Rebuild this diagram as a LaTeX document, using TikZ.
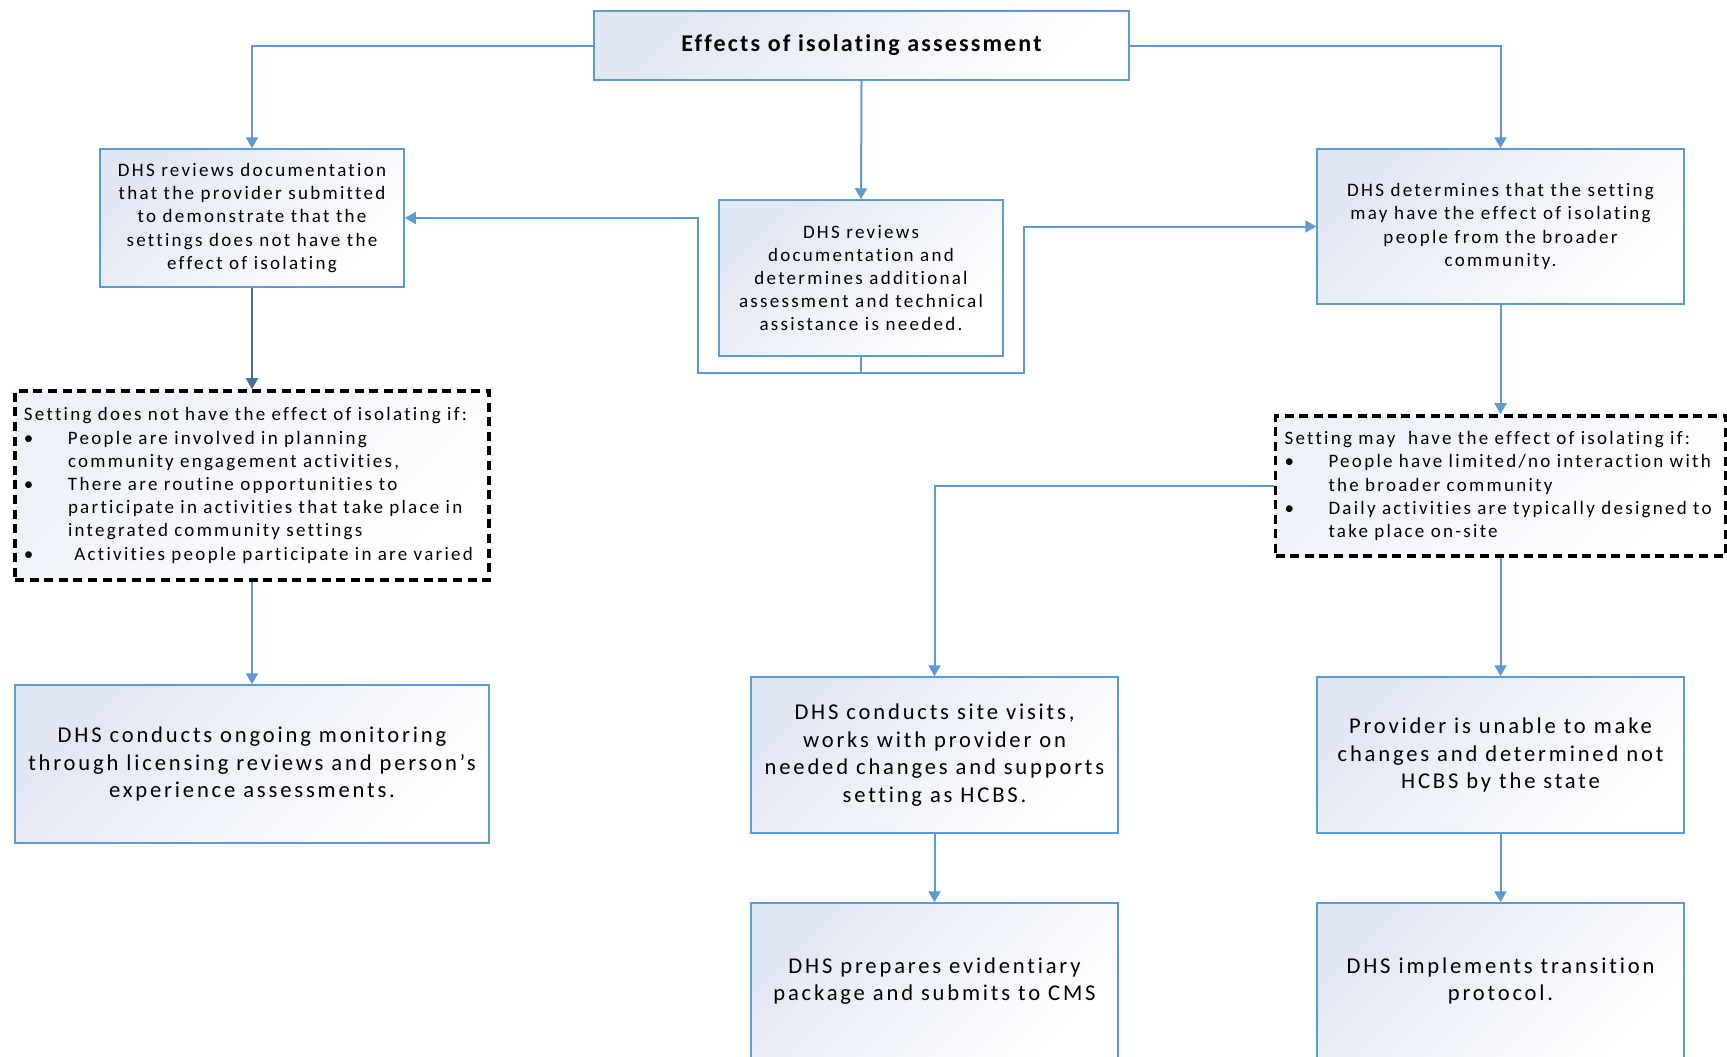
\documentclass[tikz,border=0pt]{standalone}
\usepackage{fontspec}
\setmainfont{Carlito}[Ligatures=NoCommon]
\usetikzlibrary{arrows.meta}
\usetikzlibrary{calc}

\definecolor{linkblue}{HTML}{5B9BD5}
\definecolor{darkblue}{HTML}{41719C}
\definecolor{boxtint}{HTML}{E1E7F3}

\newcommand{\headtext}{\fontsize{12}{14}\selectfont\bfseries\addfontfeature{LetterSpace=9}}
\newcommand{\smalltext}{\fontsize{9.5}{11.6}\selectfont\addfontfeature{LetterSpace=12}}
\newcommand{\bigtext}{\fontsize{11.3}{13.8}\selectfont\addfontfeature{LetterSpace=12.5}}
\newcommand{\bul}{\makebox[22pt][l]{\textbullet}}
\newcommand{\ind}{\hspace*{22pt}}

\begin{document}
\begin{tikzpicture}[x=0.5pt, y=-0.5pt,
  box/.style={draw=linkblue, line width=0.75pt, top color=boxtint, bottom color=white, shading angle=45, align=center, inner sep=3pt},
  dashbox/.style={draw=black, line width=1.8pt, dash pattern=on 4.5pt off 2.8pt, top color=boxtint!60, bottom color=white, shading angle=45, align=left, inner xsep=4.5pt},
  link/.style={draw=linkblue, line width=1pt, -{Triangle[width=6pt,length=5.5pt]}},
  darklink/.style={draw=darkblue, line width=1pt, -{Triangle[width=6pt,length=5.5pt]}}]
\useasboundingbox (0,0) rectangle (1727,1056);

\node[box, minimum width=267.5pt, minimum height=34.5pt, font=\headtext] (head) at (861.5,45.5) {Effects of isolating assessment};
\node[box, minimum width=152pt, minimum height=69pt, font=\smalltext] (review) at (252,218) {DHS reviews documentation\\that the provider submitted\\to demonstrate that the\\settings does not have the\\effect of isolating};
\node[box, minimum width=142pt, minimum height=78pt, font=\smalltext] (assist) at (861,278) {DHS reviews\\documentation and\\determines additional\\assessment and technical\\assistance is needed.};
\node[box, minimum width=183.5pt, minimum height=77.5pt, font=\smalltext] (mayiso) at (1500.5,226.5) {DHS determines that the setting\\may have the effect of isolating\\people from the broader\\community.};

\node[dashbox, text width=228pt, minimum height=94.5pt, font=\smalltext] (notif) at (252,485.5) {Setting does not have the effect of isolating if:\\\bul People are involved in planning\\\ind community engagement activities,\\\bul There are routine opportunities to\\\ind participate in activities that take place in\\\ind integrated community settings\\\bul\ Activities people participate in are varied};
\node[dashbox, text width=216pt, minimum height=70pt, font=\smalltext] (mayif) at (1500.5,486) {Setting may\ \ have the effect of isolating if:\\\bul People have limited/no interaction with\\\ind the broader community\\\bul Daily activities are typically designed to\\\ind take place on-site};

\node[box, minimum width=237pt, minimum height=79pt, font=\bigtext] (monitor) at (252,764) {DHS conducts ongoing monitoring\\through licensing reviews and person’s\\experience assessments.};
\node[box, minimum width=183.5pt, minimum height=78pt, font=\bigtext] (visit) at (934.5,755) {DHS conducts site visits,\\works with provider on\\needed changes and supports\\setting as HCBS.};
\node[box, minimum width=183.5pt, minimum height=78pt, font=\bigtext] (unable) at (1500.5,755) {Provider is unable to make\\changes and determined not\\HCBS by the state};
\node[box, minimum width=183.5pt, minimum height=78pt, font=\bigtext] (package) at (934.5,981) {DHS prepares evidentiary\\package and submits to CMS};
\node[box, minimum width=183.5pt, minimum height=78pt, font=\bigtext] (transit) at (1500.5,981) {DHS implements transition\\protocol.};

\coordinate (jleft) at (698,373);
\coordinate (jright) at (1024,373);

\draw[link] (head.west) -| (review.north);
\draw[link] (head.south) -- (assist.north);
\draw[link] (head.east) -| (mayiso.north);
\draw[link] (assist.south) |- (jleft) |- (review.east);
\draw[link] (assist.south) |- (jright) |- (mayiso.west);
\draw[darklink] (review) -- (notif);
\draw[link] (notif) -- (monitor);
\draw[link] (mayiso) -- (mayif);
\draw[link] (mayif.west) -| (visit.north);
\draw[link] (mayif) -- (unable);
\draw[link] (visit) -- (package);
\draw[link] (unable) -- (transit);
\end{tikzpicture}
\end{document}
